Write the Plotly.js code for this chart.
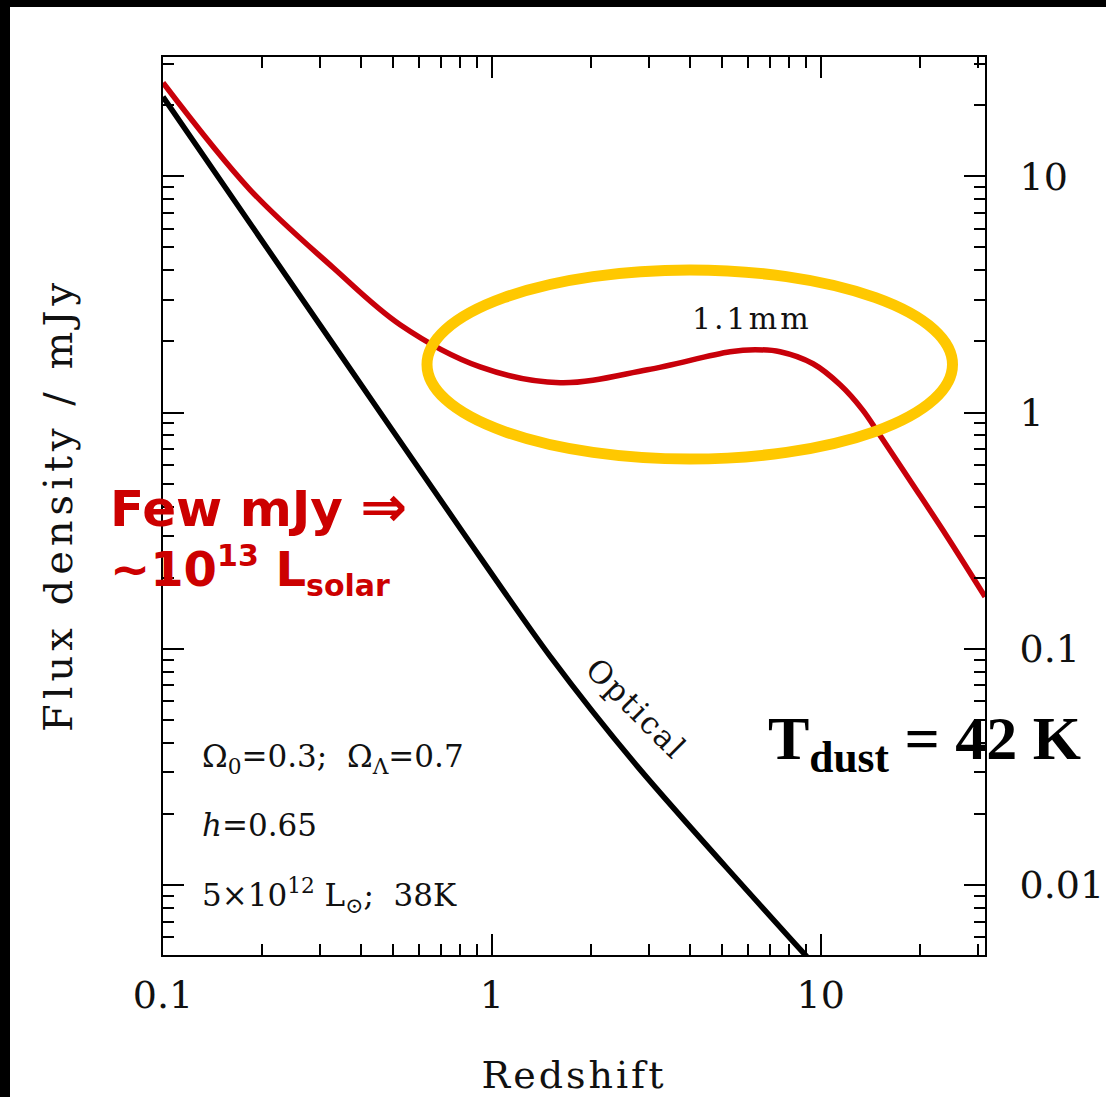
<!DOCTYPE html>
<html>
<head>
<meta charset="utf-8">
<script src="https://cdn.plot.ly/plotly-3.0.1.min.js"></script>
<style>
  html, body { margin: 0; padding: 0; background: #000; width: 1106px; height: 1097px; overflow: hidden; }
  #chart { position: absolute; left: 10px; top: 7px; width: 1096px; height: 1090px; background: #fff; }
</style>
</head>
<body>
<div id="chart"></div>
<script>
// ---- data ----
const redshiftMm = [0.1, 0.184, 0.3293, 0.526, 0.921, 1.613, 2.97, 5.30, 6.315, 7.52, 9.475, 11.45, 13.4, 15.1, 19.08, 24.2, 31.6];
const flux11mm   = [24.9, 8.77, 4.10, 2.353, 1.56, 1.337, 1.517, 1.809, 1.844, 1.809, 1.609, 1.311, 1.027, 0.805, 0.494, 0.299, 0.166];

const redshiftOpt = [0.1, 0.3225, 0.818, 1.506, 2.77, 8.97, 10];
const fluxOpt     = [21.7, 2.03, 0.310, 0.0927, 0.0318, 0.00506, 0.0043];

const xTickVals = [0.1, 1, 10];
const xTickText = ['0.1', '1', '10'];
const yTickVals = [0.01, 0.1, 1, 10];
const yTickText = ['0.01', '0.1', '1', '10'];

// minor ticks (2..9 in each decade)
function minorVals(lo, hi) {
  const v = [];
  for (let e = lo; e <= hi; e++) for (let d = 2; d <= 9; d++) v.push(d * Math.pow(10, e));
  return v;
}

// page-pixel -> paper helpers (plot area: x 163..985, y 57..955 on the page)
const PX = p => (p - 163) / 822;
const PY = p => (955 - p) / 898;

const serif = 'DejaVu Serif';
const spaced = (t, px) => '<span style="letter-spacing:' + px + 'px">' + t + '</span>';

const traces = [
  { x: redshiftMm, y: flux11mm, mode: 'lines', line: { color: '#C8000A', width: 5.5, shape: 'spline', smoothing: 1 }, hoverinfo: 'skip', showlegend: false },
  { x: redshiftOpt, y: fluxOpt, mode: 'lines', line: { color: '#000000', width: 5.5, shape: 'spline', smoothing: 0.8 }, hoverinfo: 'skip', showlegend: false }
];

const axisCommon = {
  type: 'log',
  showgrid: false, zeroline: false,
  showline: true, linecolor: '#000', linewidth: 2,
  mirror: 'allticks',
  ticks: 'inside', ticklen: 21, tickwidth: 2, tickcolor: '#000',
  tickfont: { family: serif, size: 38, color: '#111' }
};

const layout = {
  width: 1096, height: 1090,
  margin: { l: 153, r: 121, t: 50, b: 142, pad: 0 },
  paper_bgcolor: '#fff', plot_bgcolor: '#fff',
  showlegend: false,
  xaxis: Object.assign({}, axisCommon, {
    range: [-1, 1.4994],
    tickmode: 'array', tickvals: xTickVals, ticktext: xTickText,
    ticklabelstandoff: 5,
    minor: { tickmode: 'array', tickvals: minorVals(-1, 1), ticks: 'inside', ticklen: 11, tickwidth: 2, tickcolor: '#000' },
    title: { text: spaced('Redshift', 3), font: { family: serif, size: 38, color: '#111' }, standoff: 58 }
  }),
  yaxis: Object.assign({}, axisCommon, {
    range: [-2.296, 1.505],
    side: 'right',
    tickmode: 'array', tickvals: yTickVals, ticktext: yTickText,
    ticklabelstandoff: 25,
    minor: { tickmode: 'array', tickvals: minorVals(-3, 1), ticks: 'inside', ticklen: 11, tickwidth: 2, tickcolor: '#000' }
  }),
  shapes: [
    { type: 'circle', xref: 'paper', yref: 'paper',
      x0: PX(427), x1: PX(952.5), y0: PY(459), y1: PY(270),
      line: { color: '#FFC800', width: 11 }, layer: 'above' }
  ],
  annotations: [
    { xref: 'paper', yref: 'paper', x: PX(58), y: PY(505), text: spaced('Flux density / mJy', 5), textangle: -90,
      showarrow: false, font: { family: serif, size: 40, color: '#111' }, xanchor: 'center', yanchor: 'middle' },
    { xref: 'paper', yref: 'paper', x: PX(752), y: PY(318), text: spaced('1.1mm', 3),
      showarrow: false, font: { family: serif, size: 30, color: '#111' }, xanchor: 'center', yanchor: 'middle' },
    { xref: 'paper', yref: 'paper', x: PX(636), y: PY(708), text: spaced('Optical', 2), textangle: 45,
      showarrow: false, font: { family: serif, size: 31, color: '#111' }, xanchor: 'center', yanchor: 'middle' },
    { xref: 'paper', yref: 'paper', x: PX(200), y: PY(758), text: 'Ω<sub>0</sub>=0.3;  Ω<sub>Λ</sub>=0.7',
      showarrow: false, font: { family: serif, size: 31, color: '#111' }, xanchor: 'left', yanchor: 'middle' },
    { xref: 'paper', yref: 'paper', x: PX(200), y: PY(825), text: '<i>h</i>=0.65',
      showarrow: false, font: { family: serif, size: 31, color: '#111' }, xanchor: 'left', yanchor: 'middle' },
    { xref: 'paper', yref: 'paper', x: PX(200), y: PY(895), text: '5×10<sup>12</sup> L<sub>⊙</sub>;  38K',
      showarrow: false, font: { family: serif, size: 31, color: '#111' }, xanchor: 'left', yanchor: 'middle' },
    { xref: 'paper', yref: 'paper', x: PX(108), y: PY(506), text: '<b>Few mJy <span style="font-size:56px">⇒</span></b>',
      showarrow: false, font: { family: 'DejaVu Sans', size: 50, color: '#CC0000' }, xanchor: 'left', yanchor: 'middle' },
    { xref: 'paper', yref: 'paper', x: PX(108), y: PY(570), text: '<b>~10<sup><span style="font-size:30px">13</span></sup> L<sub><span style="font-size:30px">solar</span></sub></b>',
      showarrow: false, font: { family: 'DejaVu Sans', size: 48, color: '#CC0000' }, xanchor: 'left', yanchor: 'middle' },
    { xref: 'paper', yref: 'paper', x: PX(766), y: PY(742), text: '<b>T<sub>dust</sub> = 42 K</b>',
      showarrow: false, font: { family: 'Liberation Serif', size: 62, color: '#000' }, xanchor: 'left', yanchor: 'middle' }
  ]
};

Plotly.newPlot('chart', traces, layout, { staticPlot: true, displayModeBar: false });
</script>
</body>
</html>
